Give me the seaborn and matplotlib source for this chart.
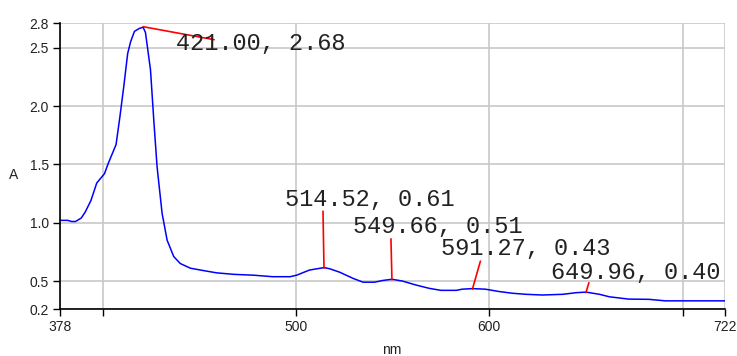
import matplotlib
matplotlib.use("Agg")
import matplotlib.pyplot as plt
import numpy as np
import pandas as pd
import seaborn as sns

# spectrum
wavelength = [378, 382, 384, 386, 389, 391, 394, 397, 401, 403, 407, 409, 411, 413,
              414.5, 416.5, 419, 421, 422.2, 424.8, 426.5, 428.2, 430.8, 433.4, 436.8,
              440.2, 445.4, 452, 459, 468, 478, 488, 497, 500.4, 507, 514.5, 517.5,
              522.7, 529.5, 534.7, 540.7, 545, 549.7, 555, 562, 569, 575, 583, 586,
              591.3, 598, 605, 612, 619, 627.5, 638, 645, 650, 657, 662, 672, 682.5,
              691, 705, 722]
absorbance = [1.02, 1.02, 1.01, 1.01, 1.04, 1.09, 1.19, 1.34, 1.42, 1.51, 1.67, 1.91,
              2.17, 2.45, 2.55, 2.64, 2.665, 2.675, 2.63, 2.31, 1.88, 1.48, 1.08, 0.85,
              0.71, 0.65, 0.61, 0.59, 0.57, 0.557, 0.55, 0.537, 0.537, 0.55, 0.594, 0.615,
              0.605, 0.575, 0.523, 0.49, 0.49, 0.505, 0.515, 0.50, 0.466, 0.437, 0.42,
              0.42, 0.43, 0.435, 0.43, 0.41, 0.395, 0.386, 0.38, 0.386, 0.40, 0.405,
              0.386, 0.365, 0.345, 0.343, 0.33, 0.33, 0.33]

# picked peaks
peak_nm = [421.00, 514.52, 549.66, 591.27, 649.96]
peak_abs = [2.68, 0.61, 0.51, 0.43, 0.40]

x_ticks = [378, 400, 500, 600, 700, 722]
x_ticklabels = ["378", "", "500", "600", "", "722"]
y_lo, y_hi = 0.257, 2.709
y_ticks = [y_lo, 0.5, 1.0, 1.5, 2.0, 2.5, y_hi]
y_ticklabels = ["0.2", "0.5", "1.0", "1.5", "2.0", "2.5", "2.8"]

# leader-line end and label offsets in pixels
line_off = [(71, -13), (-1, 57), (-1, 41), (8, 28), (3, 10)]
text_off = [(33, -23), (-39, 62), (-39, 47), (-31, 34), (-35, 14)]

df = pd.DataFrame({"nm": wavelength, "A": absorbance})

sns.set_style("white")
plt.rcParams["font.family"] = ["Liberation Sans", "DejaVu Sans"]

fig = plt.figure(figsize=(7.37, 3.56), dpi=100)
ax = fig.add_axes([0.0814, 0.131, 0.9026, 0.8035])

sns.lineplot(data=df, x="nm", y="A", color="#0000ff", linewidth=1.1, ax=ax)

ax.set_xlim(378, 722)
ax.set_ylim(y_lo, y_hi)
ax.set_xticks(x_ticks)
ax.set_xticklabels(x_ticklabels, fontsize=10)
ax.set_yticks(y_ticks)
ax.set_yticklabels(y_ticklabels, fontsize=10)
ax.tick_params(axis="both", direction="out", length=5, width=1, color="black", pad=3,
               left=True, bottom=True, labelcolor="#222222")
ax.grid(True, color="#c8c8c8", linewidth=1.2)
ax.set_axisbelow(True)

for side in ["top", "right"]:
    ax.spines[side].set_visible(False)
for side in ["left", "bottom"]:
    ax.spines[side].set_color("black")
    ax.spines[side].set_linewidth(1.2)

ax.set_xlabel("nm", fontsize=10, color="#222222", va="center")
ax.xaxis.set_label_coords(0.499, -0.142)
ax.set_ylabel("A", fontsize=10, color="#222222", rotation=0, ha="center", va="center")
ax.yaxis.set_label_coords(-0.07, 0.47)

for px, py, lo, to in zip(peak_nm, peak_abs, line_off, text_off):
    ax.annotate("", xy=(px, py), xytext=lo, textcoords="offset pixels",
                arrowprops=dict(arrowstyle="-", color="red", lw=1.2,
                                shrinkA=0, shrinkB=0))
    ax.annotate(f"{px:.2f}, {py:.2f}", xy=(px, py), xytext=to,
                textcoords="offset pixels", ha="left", va="baseline",
                fontfamily="Liberation Mono", fontsize=17, color="#222222")

fig.savefig("out.png", dpi=100)
